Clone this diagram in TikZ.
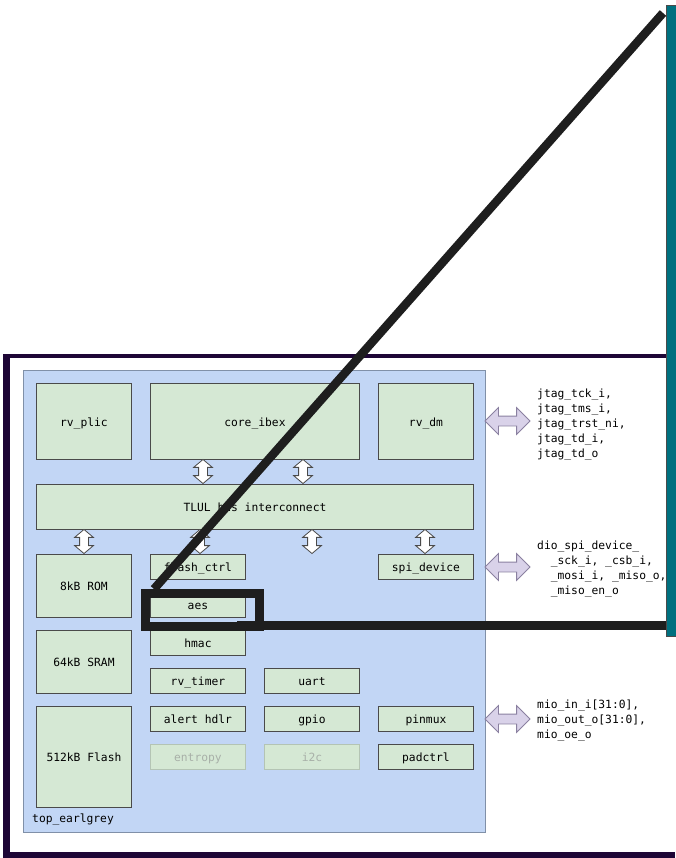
\documentclass[tikz,border=0pt]{standalone}
\usepackage{fontspec}
\newfontfamily\mono{DejaVu Sans Mono}
\usetikzlibrary{shapes.arrows}
\definecolor{framec}{HTML}{1E0636}
\definecolor{panelc}{HTML}{C2D6F5}
\definecolor{panelline}{HTML}{8090A8}
\definecolor{blockc}{HTML}{D5E8D4}
\definecolor{blockline}{HTML}{4A4A4A}
\definecolor{fadeline}{HTML}{B4C4B4}
\definecolor{fadetext}{HTML}{A8B0A8}
\definecolor{portc}{HTML}{D9D2E9}
\definecolor{portline}{HTML}{8A80A0}
\definecolor{tealc}{HTML}{00707F}
\definecolor{inkc}{HTML}{1E1E1E}
\tikzset{
  lbl/.style={font=\mono\fontsize{11.3}{15}\selectfont, text=black},
  blk/.style={lbl, draw=blockline, fill=blockc, line width=0.9pt,
    anchor=north west, inner sep=0pt, minimum width=95pt, minimum height=25pt,
    text height=11.5pt, text depth=2pt},
  faded/.style={blk, draw=fadeline, text=fadetext},
  varrow/.style={double arrow, rotate=90, draw=blockline, fill=white, line width=0.8pt,
    inner sep=4pt, minimum height=24pt, double arrow head extend=5pt,
    double arrow tip angle=100},
  harrow/.style={double arrow, draw=portline, fill=portc, line width=0.8pt,
    inner sep=4.5pt, minimum height=45pt, double arrow head extend=8.5pt,
    double arrow tip angle=90},
  sidetext/.style={lbl, anchor=north west, inner sep=0pt, align=left},
  callout/.style={draw=inkc, line width=8.5pt}
}
\begin{document}
\begin{tikzpicture}[x=1pt,y=-1pt]
\useasboundingbox (0,0) rectangle (675,858);
% outer frame of the top level
\fill[framec] (3,354) rectangle (675,858);
\fill[white] (10,357.5) rectangle (675,852);
% teal side bar
\node[draw=blockline, fill=tealc, line width=0.8pt, anchor=north west, inner sep=0pt,
  minimum width=12pt, minimum height=631pt] (bar) at (666,5) {};
% chip panel
\node[draw=panelline, fill=panelc, line width=0.9pt, anchor=north west, inner sep=0pt,
  minimum width=462pt, minimum height=462pt] (panel) at (23,370) {};
\node[lbl, anchor=west, inner sep=0pt] (toplbl) at (32,819) {top\_earlgrey};
% blocks
\node[blk, minimum height=76pt] (plic) at (36,383) {rv\_plic};
\node[blk, minimum height=76pt, minimum width=209pt] (ibex) at (150,383) {core\_ibex};
\node[blk, minimum height=76pt] (dm) at (378,383) {rv\_dm};
\node[blk, minimum height=45pt, minimum width=437pt] (tlul) at (36,484) {TLUL bus interconnect};
\node[blk, minimum height=63pt] (rom) at (36,554) {8kB ROM};
\node[blk] (flash) at (150,554) {flash\_ctrl};
\node[blk] (spi) at (378,554) {spi\_device};
\node[blk] (aes) at (150,592) {aes};
\node[blk, minimum height=63pt] (sram) at (36,630) {64kB SRAM};
\node[blk] (hmac) at (150,630) {hmac};
\node[blk] (timer) at (150,668) {rv\_timer};
\node[blk] (uart) at (264,668) {uart};
\node[blk, minimum height=101pt] (eflash) at (36,706) {512kB Flash};
\node[blk] (alert) at (150,706) {alert hdlr};
\node[blk] (gpio) at (264,706) {gpio};
\node[blk] (pinmux) at (378,706) {pinmux};
\node[faded] (entropy) at (150,744) {entropy};
\node[faded] (i2c) at (264,744) {i2c};
\node[blk] (padctrl) at (378,744) {padctrl};
% bus arrows
\node[varrow] (va1) at (203,471.5) {};
\node[varrow] (va2) at (303,471.5) {};
\node[varrow] (vb1) at (84,541.5) {};
\node[varrow] (vb2) at (200,541.5) {};
\node[varrow] (vb3) at (312,541.5) {};
\node[varrow] (vb4) at (425,541.5) {};
% port arrows
\node[harrow] (pjtag) at (507.5,421) {};
\node[harrow] (pspi) at (507.5,567) {};
\node[harrow] (pmio) at (507.5,719) {};
% port signal lists
\node[sidetext] (tjtag) at (537,389) {jtag\_tck\_i,\\jtag\_tms\_i,\\jtag\_trst\_ni,\\jtag\_td\_i,\\jtag\_td\_o};
\node[sidetext] (tspi) at (537,541) {dio\_spi\_device\_\\\hphantom{xx}\_sck\_i, \_csb\_i,\\\hphantom{xx}\_mosi\_i, \_miso\_o,\\\hphantom{xx}\_miso\_en\_o};
\node[sidetext] (tmio) at (537,700) {mio\_in\_i[31:0],\\mio\_out\_o[31:0],\\mio\_oe\_o};
% zoom callout around aes
\node[callout, inner sep=0pt, minimum width=114pt, minimum height=33pt, anchor=north west] (hl) at (141,589) {};
\coordinate (ztop) at (663,13);
\coordinate (zfoot) at (154,589);
\coordinate (zleft) at (237,625.5);
\coordinate (zright) at (666,625.5);
\draw[callout] (ztop) -- (zfoot);
\draw[callout] (zleft) -- (zright);
\end{tikzpicture}
\end{document}
